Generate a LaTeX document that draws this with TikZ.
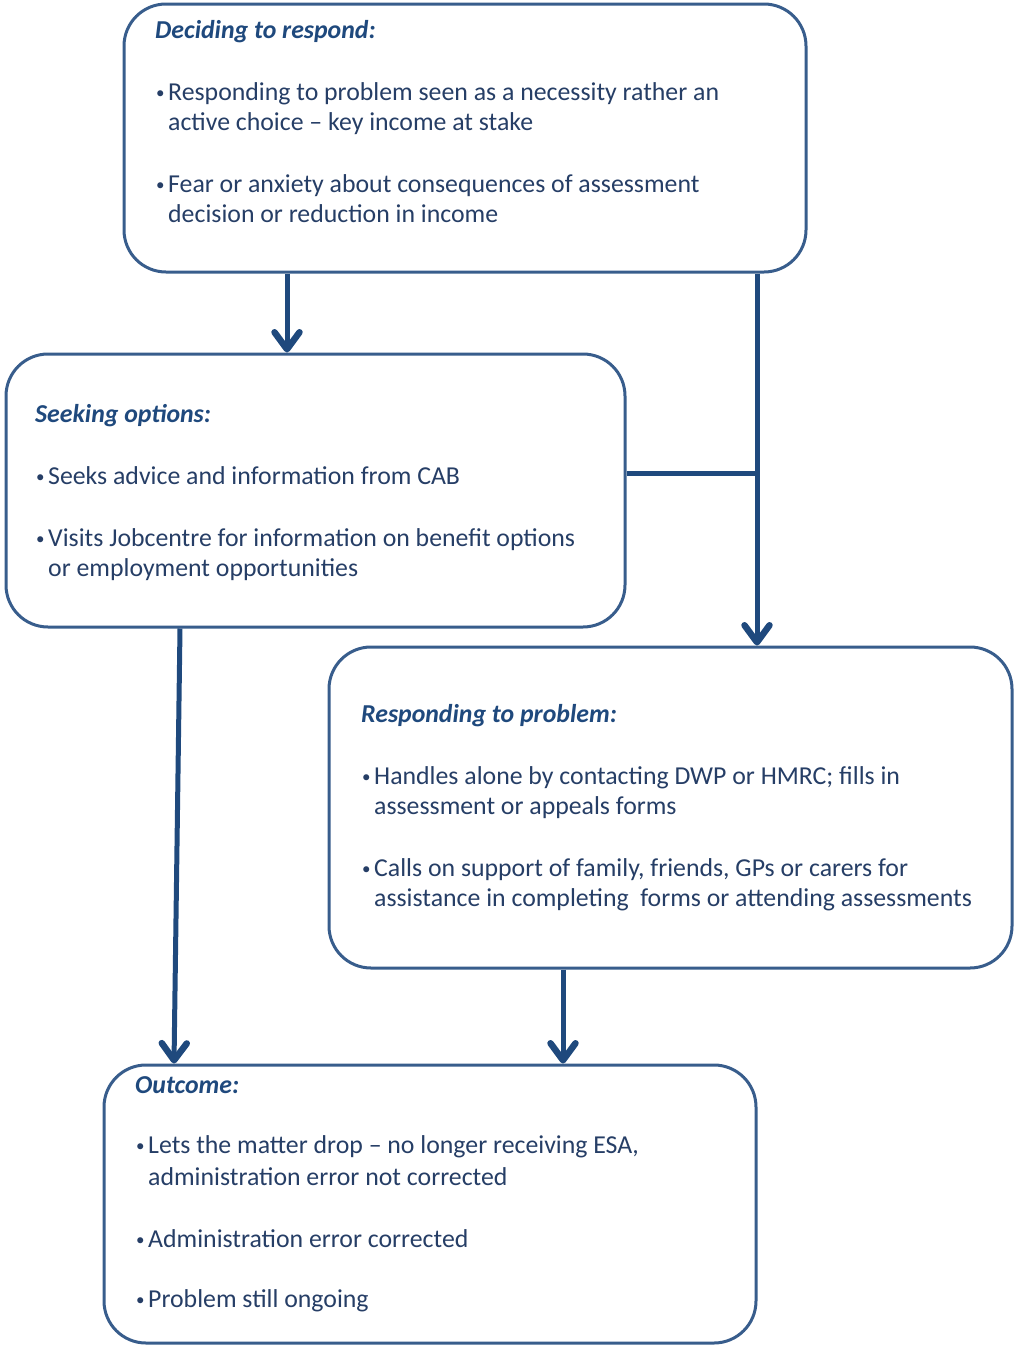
\documentclass[tikz,border=0pt]{standalone}
\usepackage{fontspec}
\setmainfont{Carlito}
\usetikzlibrary{arrows.meta}
\definecolor{boxline}{RGB}{56,93,140}
\definecolor{arrowc}{RGB}{31,73,125}
\definecolor{titlec}{RGB}{31,73,125}
\definecolor{bodyc}{RGB}{38,62,102}
\newcommand{\bul}{\makebox[13pt][l]{\hspace*{1pt}\raisebox{2pt}{\fontsize{17}{17}\selectfont\textbullet}}}
\newcommand{\ind}{\hspace*{13pt}}
\newcommand{\ttl}[1]{{\bfseries\itshape\color{titlec}#1}}
\begin{document}
\begin{tikzpicture}[x=1pt,y=-1pt,
  stage/.style={draw=boxline,line width=3pt,rounded corners=42pt,inner sep=0pt,fill=white},
  txt/.style={anchor=north west,inner sep=0pt,align=left,text=bodyc,font=\fontsize{25.8}{30}\selectfont},
  arr/.style={draw=arrowc,line width=5pt,-{Straight Barb[length=17pt,width=25pt,line width=6.5pt,round]}},
  link/.style={draw=arrowc,line width=5pt}]
\useasboundingbox (0,0) rectangle (1015,1347);

% stage boxes
\node[stage,minimum width=682pt,minimum height=268pt] (b1) at (465,138) {};
\node[stage,minimum width=619pt,minimum height=273pt] (b2) at (315.5,490.5) {};
\node[stage,minimum width=683pt,minimum height=321pt] (b3) at (670.5,807.5) {};
\node[stage,minimum width=652pt,minimum height=278pt] (b4) at (430,1204) {};

% box contents (north = first baseline - 21)
\node[txt] (t1) at (155,17) {\strut\ttl{Deciding to respond:}\\[32pt]
\bul Responding to problem seen as a necessity rather an\\
\ind active choice – key income at stake\\[32pt]
\bul Fear or anxiety about consequences of assessment\\
\ind decision or reduction in income};

\node[txt] (t2) at (35,401) {\strut\ttl{Seeking options:}\\[32pt]
\bul Seeks advice and information from CAB\\[32pt]
\bul Visits Jobcentre for information on benefit options\\
\ind or employment opportunities};

\node[txt] (t3) at (361,701) {\strut\ttl{Responding to problem:}\\[32pt]
\bul Handles alone by contacting DWP or HMRC; fills in\\
\ind assessment or appeals forms\\[32pt]
\bul Calls on support of family, friends, GPs or carers for\\
\ind assistance in completing \ forms or attending assessments};

\node[txt] (t4) at (135,1072) {\strut\ttl{Outcome:}\\[30pt]
\bul Lets the matter drop – no longer receiving ESA,\\[2pt]
\ind administration error not corrected\\[32pt]
\bul Administration error corrected\\[30pt]
\bul Problem still ongoing};

% connector positions
\coordinate (xa) at (287,0);
\coordinate (xb) at (757,0);
\coordinate (xc) at (180,0);
\coordinate (xd) at (174,0);
\coordinate (xe) at (563,0);
\coordinate (j) at (757,473);

% connectors
\draw[arr] (b1.south -| xa) -- (b2.north -| xa);
\draw[arr] (b1.south -| xb) -- (b3.north -| xb);
\draw[link] (b2.east |- j) -- (j);
\draw[arr] (b2.south -| xc) -- (b4.north -| xd);
\draw[arr] (b3.south -| xe) -- (b4.north -| xe);
\end{tikzpicture}
\end{document}
